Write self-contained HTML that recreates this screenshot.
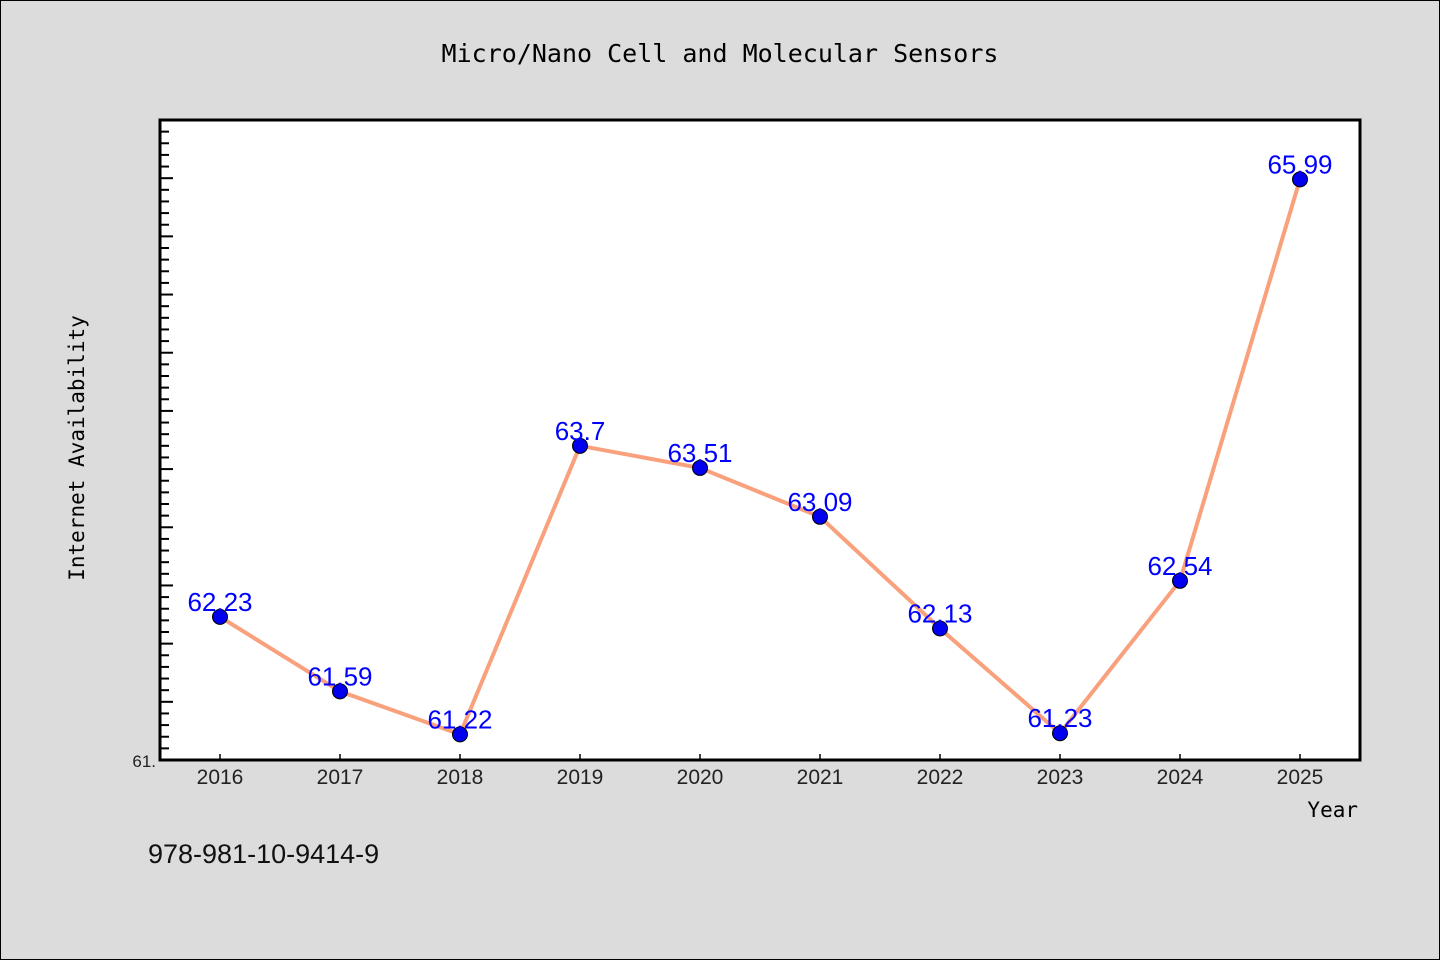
<!DOCTYPE html>
<html><head><meta charset="utf-8"><style>
html,body{margin:0;padding:0;background:#dcdcdc;}
svg{display:block;}
</style></head><body>
<svg id="chart" width="1440" height="960" xmlns="http://www.w3.org/2000/svg">
<rect x="0.5" y="0.5" width="1439" height="959" fill="#dcdcdc" stroke="#000"/>
<text x="720" y="62" text-anchor="middle" font-family="'DejaVu Sans Mono','Liberation Mono',monospace" font-size="25" fill="#000">Micro/Nano Cell and Molecular Sensors</text>
<rect x="160" y="120" width="1200" height="640" fill="#fff"/>
<g id="axes"></g>
<g id="series"></g>
<rect x="160" y="120" width="1200" height="640" fill="none" stroke="#000" stroke-width="3"/>
<text transform="translate(84,448) rotate(-90)" text-anchor="middle" font-family="'DejaVu Sans Mono','Liberation Mono',monospace" font-size="21" fill="#000">Internet Availability</text>
<text x="1358" y="817" text-anchor="end" font-family="'DejaVu Sans Mono','Liberation Mono',monospace" font-size="21" fill="#000">Year</text>
<text x="148" y="863" font-family="'Liberation Sans','DejaVu Sans',sans-serif" font-size="27" fill="#111">978-981-10-9414-9</text>
</svg>
<script>
const categories = [2016,2017,2018,2019,2020,2021,2022,2023,2024,2025];
const values = [62.23,61.59,61.22,63.7,63.51,63.09,62.13,61.23,62.54,65.99];
const yLabels = ["61."];
const NS="http://www.w3.org/2000/svg";
const X0=160,X1=1360,Y0=760,Y1=120;
const xMin=categories[0]-0.5,xMax=categories[categories.length-1]+0.5;
const yMin=61,yMax=66.5;
const sx=v=>X0+(v-xMin)/(xMax-xMin)*(X1-X0);
const sy=v=>Y0-(v-yMin)/(yMax-yMin)*(Y0-Y1);
function mk(tag,attrs,parent){const e=document.createElementNS(NS,tag);for(const k in attrs)e.setAttribute(k,attrs[k]);parent.appendChild(e);return e;}
const axes=document.getElementById('axes'),series=document.getElementById('series');
for(let i=1;i<=54;i++){const v=yMin+i*0.1;const y=sy(v);const major=i%5===0;
const t=mk('line',{x1:X0,x2:X0+(major?13:9),y1:y,y2:y,stroke:'#000','stroke-width':2},axes);

}
const yl=mk('text',{x:X0-4,y:Y0+7,'text-anchor':'end','font-family':"'Liberation Sans',sans-serif",'font-size':17,fill:'#222'},axes);
yl.textContent=yLabels[0];


categories.forEach(c=>{const x=sx(c);
const t=mk('line',{x1:x,x2:x,y1:Y0,y2:Y0-6,stroke:'#000','stroke-width':1.5},axes);


const l=mk('text',{x:x,y:Y0+24,'text-anchor':'middle','font-family':"'Liberation Sans',sans-serif",'font-size':21,fill:'#222'},axes);
l.textContent=c;

});
const pts=categories.map((c,i)=>sx(c)+','+sy(values[i])).join(' ');
const line=mk('polyline',{points:pts,fill:'none',stroke:'#f9a07c','stroke-width':4,'stroke-linejoin':'round'},series);


categories.forEach((c,i)=>{const x=sx(c),y=sy(values[i]);
const p=mk('circle',{cx:x,cy:y,r:7.5,fill:'#0000ee',stroke:'#000','stroke-width':1},series);


const l=mk('text',{x:x,y:y-6,'text-anchor':'middle','font-family':"'Liberation Sans',sans-serif",'font-size':26,fill:'#0000ff'},series);
l.textContent=values[i];

});
</script>
</body></html>
